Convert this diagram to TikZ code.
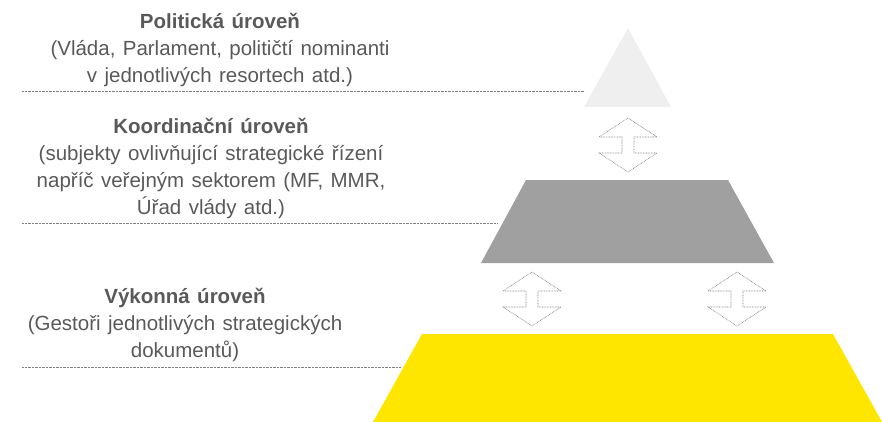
\documentclass[tikz,border=0pt]{standalone}
\usepackage{fontspec}
\setmainfont{Liberation Sans}
\usepackage{tikz}

\definecolor{txtgray}{HTML}{595959}
\definecolor{toplevel}{HTML}{EFEFEF}
\definecolor{midlevel}{HTML}{A0A0A0}
\definecolor{eyyellow}{HTML}{FFE600}
\newcommand{\levelfont}{\fontsize{20.5}{27}\selectfont\spaceskip=7.4pt plus 2pt\relax}

\begin{document}
\begin{tikzpicture}[x=1pt,y=-1pt,
    leveltext/.style={align=center,text=txtgray,font=\levelfont},
    rule/.style={draw=gray,line width=0.6pt,dash pattern=on 0.7pt off 0.7pt},
    updown/.style={draw=gray,line width=0.6pt,dash pattern=on 0.8pt off 0.8pt,fill=white}]
  \useasboundingbox (0,0) rectangle (882,422);
  % pyramid
  \fill[toplevel] (628,28) -- (671,107) -- (584,107) -- cycle;
  \fill[midlevel] (526,180) -- (728,180) -- (774,263) -- (481,263) -- cycle;
  \fill[eyyellow] (422,334) -- (833,334) -- (882,422) -- (373,422) -- cycle;
  % separators
  \draw[rule] (22,91) -- (584,91);
  \draw[rule] (22,223) -- (497,223);
  \draw[rule] (22,367) -- (401,367);
  % labels
  \node[leveltext] (political) at (220,50) {\textbf{Politická úroveň}\\(Vláda, Parlament, političtí nominanti\\v jednotlivých resortech atd.)};
  \node[leveltext] (coordination) at (211,168) {\textbf{Koordinační úroveň}\\(subjekty ovlivňující strategické řízení\\napříč veřejným sektorem (MF, MMR,\\Úřad vlády atd.)};
  \node[leveltext] (executive) at (185,325) {\textbf{Výkonná úroveň}\\(Gestoři jednotlivých strategických\\dokumentů)};
  % two-way arrows between levels
  \foreach \cx/\cy in {628/145, 532/299, 737/299}
    \draw[updown] (\cx,\cy) ++(0,-27) -- ++(-29,19) -- ++(23,0) -- ++(0,16) -- ++(-23,0)
      -- ++(29,19) -- ++(29,-19) -- ++(-23,0) -- ++(0,-16) -- ++(23,0) -- cycle;
\end{tikzpicture}
\end{document}
